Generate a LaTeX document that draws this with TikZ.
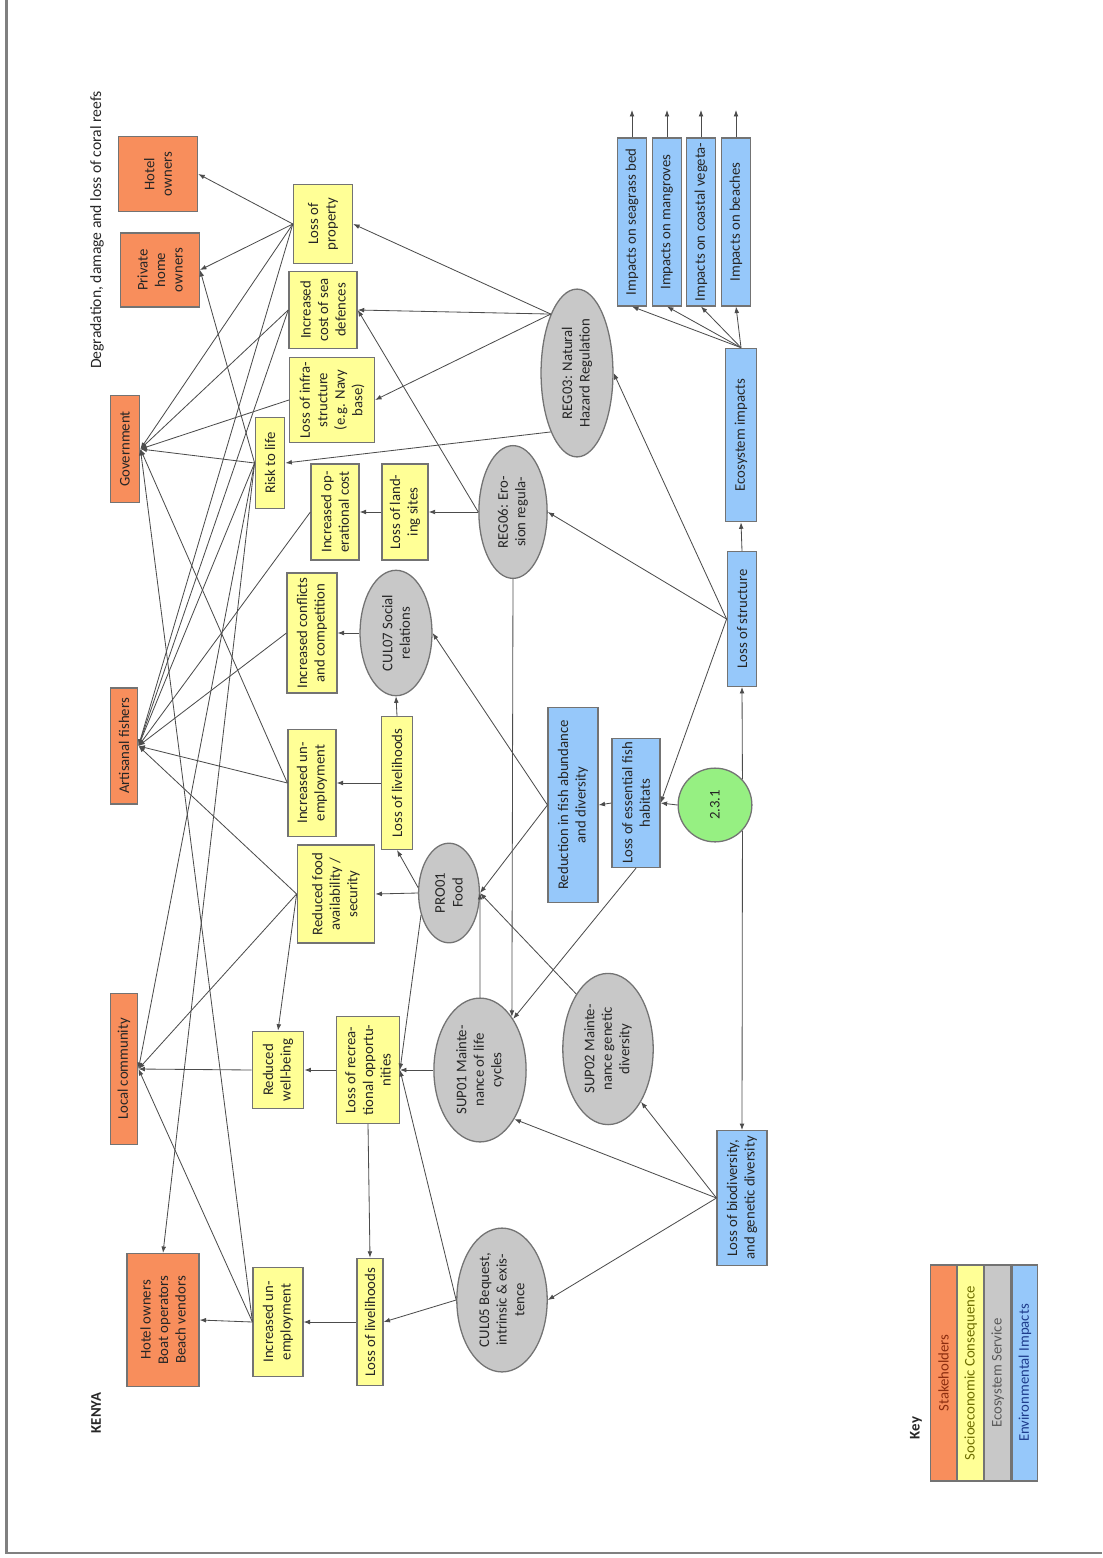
\documentclass[tikz,border=0pt]{standalone}
\usepackage{fontspec}
\setmainfont{Carlito}
\usepackage{tikz}
\usetikzlibrary{positioning}
\usetikzlibrary{shapes, arrows.meta}

\definecolor{holderorange}{RGB}{248,142,92}
\definecolor{socyellow}{RGB}{255,255,150}
\definecolor{servgray}{RGB}{200,200,200}
\definecolor{envblue}{RGB}{150,200,250}
\definecolor{pressgreen}{RGB}{150,240,130}
\definecolor{framegray}{RGB}{128,128,128}

\begin{document}
\begin{tikzpicture}[x=0.019056cm, y=0.019056cm, rotate=90, transform shape,
    every node/.style={font=\fontsize{8}{9.5}\selectfont, align=center, text=black!85},
    holderbox/.style={rectangle, draw=black!55, fill=holderorange, line width=0.7pt, inner sep=1pt},
    socbox/.style={rectangle, draw=black!55, fill=socyellow, line width=0.7pt, inner sep=1pt},
    servnode/.style={ellipse, draw=black!55, fill=servgray, line width=0.7pt, inner sep=0pt},
    envbox/.style={rectangle, draw=black!55, fill=envblue, line width=0.7pt, inner sep=1pt},
    keybox/.style={rectangle, draw=black!55, line width=0.7pt, minimum width=117pt,
      minimum height=14pt, inner sep=1pt},
    arr/.style={-{Latex[length=3.5pt,width=2.6pt]}, draw=black!70, line width=0.45pt}, ]
    \useasboundingbox (-1558,-1102) rectangle (0,0);
    \draw[framegray, line width=1.6pt] (0,-6.5) -- (-1553,-6.5) -- (-1553,-1102);
    % Titles
    \node[font=\fontsize{8.5}{10}\selectfont] (title) at (-230,-97) {Degradation, damage and loss of coral reefs};
    \node[font=\fontsize{8}{10}\selectfont\bfseries] (kenya) at (-1413,-96) {KENYA};
    \node[font=\fontsize{8}{10}\selectfont\bfseries] (keytitle) at (-1428,-916) {Key};
    % Stakeholders
    \node[holderbox, minimum width=40.5pt, minimum height=43pt] (hotel) at (-174,-158) {Hotel\\owners};
    \node[holderbox, minimum width=40pt, minimum height=42.7pt] (home) at (-270,-160) {Private\\home\\owners};
    \node[holderbox, minimum width=58pt, minimum height=16pt] (gov) at (-449,-125) {Government};
    \node[holderbox, minimum width=63pt, minimum height=15pt] (fishers) at (-746,-124) {Artisanal fishers};
    \node[holderbox, minimum width=82pt, minimum height=15pt] (community) at (-1069,-124) {Local community};
    \node[holderbox, minimum width=72pt, minimum height=39pt] (hbb) at (-1320,-163) {Hotel owners\\Boat operators\\Beach vendors};
    % Socioeconomic consequences
    \node[socbox, minimum width=43pt, minimum height=32pt] (property) at (-224,-323) {Loss of\\property};
    \node[socbox, minimum width=42pt, minimum height=37pt] (seadef) at (-310,-323) {Increased\\cost of sea\\defences};
    \node[socbox, minimum width=46pt, minimum height=46pt] (infra) at (-400,-332) {Loss of infra-\\structure\\(e.g. Navy\\base)};
    \node[socbox, minimum width=49pt, minimum height=16pt] (risk) at (-463,-270) {Risk to life};
    \node[socbox, minimum width=52pt, minimum height=26pt] (opcost) at (-512,-335) {Increased op-\\erational cost};
    \node[socbox, minimum width=52pt, minimum height=25pt] (landing) at (-512,-405) {Loss of land-\\ing sites};
    \node[socbox, minimum width=65pt, minimum height=27pt] (conflicts) at (-633,-312) {Increased conflicts\\and competition};
    \node[socbox, minimum width=58pt, minimum height=26pt] (unempfish) at (-783,-312) {Increased un-\\employment};
    \node[socbox, minimum width=72pt, minimum height=17pt] (livelifish) at (-783,-397) {Loss of livelihoods};
    \node[socbox, minimum width=53pt, minimum height=42pt] (food) at (-894,-336) {Reduced food\\availability /\\security};
    \node[socbox, minimum width=42pt, minimum height=28pt] (wellbeing) at (-1070,-278) {Reduced\\well-being};
    \node[socbox, minimum width=58pt, minimum height=34pt] (recreation) at (-1070,-368) {Loss of recrea-\\tional opportu-\\nities};
    \node[socbox, minimum width=59pt, minimum height=27pt] (unempbot) at (-1322,-278) {Increased un-\\employment};
    \node[socbox, minimum width=69pt, minimum height=14pt] (livelibot) at (-1322,-370) {Loss of livelihoods};
    % Ecosystem services
    \node[servnode, minimum width=91pt, minimum height=39pt] (reg03) at (-373,-577) {REG03: Natural\\Hazard Regulation};
    \node[servnode, minimum width=72pt, minimum height=37pt] (reg06) at (-512,-513) {REG06: Ero-\\sion regula-};
    \node[servnode, minimum width=68pt, minimum height=39pt] (cul07) at (-633,-396) {CUL07 Social\\relations};
    \node[servnode, minimum width=54pt, minimum height=33pt] (pro01) at (-893,-449) {PRO01\\Food};
    \node[servnode, minimum width=78pt, minimum height=50pt] (sup01) at (-1070,-480) {SUP01 Mainte-\\nance of life\\cycles};
    \node[servnode, minimum width=82pt, minimum height=49pt] (sup02) at (-1049,-608) {SUP02 Mainte-\\nance genetic\\diversity};
    \node[servnode, minimum width=78pt, minimum height=49pt] (cul05) at (-1300,-502) {CUL05 Bequest,\\intrinsic \& exis-\\tence};
    % Environmental impacts
    \node[circle, draw=black!55, fill=pressgreen, line width=0.7pt, minimum size=40pt, inner sep=0pt] (c231) at (-805,-715) {2.3.1};
    \node[envbox, minimum width=70pt, minimum height=26pt] (habitats) at (-803,-636) {Loss of essential fish\\habitats};
    \node[envbox, minimum width=106pt, minimum height=27pt] (fishabund) at (-805,-573) {Reduction in fish abundance\\and diversity};
    \node[envbox, minimum width=73pt, minimum height=16pt] (structure) at (-619,-742) {Loss of structure};
    \node[envbox, minimum width=94pt, minimum height=17pt] (ecosys) at (-435,-741) {Ecosystem impacts};
    \node[envbox, minimum width=73pt, minimum height=27pt] (biodiv) at (-1198,-742) {Loss of biodiversity,\\and genetic diversity};
    \node[envbox, minimum width=91pt, minimum height=16pt] (seagrass) at (-222,-632) {Impacts on seagrass bed};
    \node[envbox, minimum width=91pt, minimum height=16pt] (mangroves) at (-222,-667) {Impacts on mangroves};
    \node[envbox, minimum width=91pt, minimum height=16pt] (vegetation) at (-222,-701) {Impacts on coastal vegeta-};
    \node[envbox, minimum width=91pt, minimum height=16pt] (beaches) at (-222,-736) {Impacts on beaches};
    \coordinate (seagrassend) at (-110,-632);
    \coordinate (mangrovesend) at (-110,-667);
    \coordinate (vegetationend) at (-110,-701);
    \coordinate (beachesend) at (-110,-736);
    % Key
    \node[keybox, fill=holderorange, text={rgb,255:red,140;green,45;blue,15}] (keyholder) at (-1373,-943.5) {Stakeholders};
    \node[keybox, fill=socyellow, text={rgb,255:red,110;green,110;blue,0}] (keysoc) [below=0pt of keyholder] {Socioeconomic Consequence};
    \node[keybox, fill=servgray, text=black!65] (keyserv) [below=0pt of keysoc] {Ecosystem Service};
    \node[keybox, fill=envblue, text={rgb,255:red,30;green,60;blue,140}] (keyenv) [below=0pt of keyserv] {Environmental Impacts};
    % Lines to stakeholders
    \draw[arr] (property.north) -- (hotel.south); \draw[arr] (property.north) -- (home.south);
    \draw[arr] (property.north) -- (gov.south); \draw[arr] (property.north) -- (fishers.south);
    \draw[arr] (seadef.north) -- (gov.south); \draw[arr] (seadef.north) -- (fishers.south);
    \draw[arr] (infra.north) -- (gov.south);
    \draw[arr] (risk.north) -- (home.south); \draw[arr] (risk.north) -- (gov.south);
    \draw[arr] (risk.north) -- (fishers.south); \draw[arr] (risk.north) -- (community.south);
    \draw[arr] (risk.north) -- (hbb.east);
    \draw[arr] (opcost.north) -- (fishers.south); \draw[arr] (conflicts.north) -- (fishers.south);
    \draw[arr] (unempfish.north) -- (gov.south); \draw[arr] (unempfish.north) -- (fishers.south);
    \draw[arr] (food.north) -- (fishers.south); \draw[arr] (food.north) -- (community.south);
    \draw[arr] (food.north) -- (wellbeing.east); \draw[arr] (wellbeing.north) -- (community.south);
    \draw[arr] (unempbot.north) -- (gov.south); \draw[arr] (unempbot.north) -- (community.south);
    \draw[arr] (unempbot.north) -- (hbb.south);
    % Lines to consequences
    \draw[arr] (reg03.24) -- (property.south); \draw[arr] (reg03.24) -- (seadef.south);
    \draw[arr] (reg03.24) -- (infra.south); \draw[arr] (reg03.156) -- (risk.south);
    \draw[arr] (reg06.north) -- (seadef.south); \draw[arr] (reg06.north) -- (landing.south);
    \draw[arr] (landing.north) -- (opcost.south); \draw[arr] (reg06.west) -- (sup01.-31);
    \draw[arr] (cul07.north) -- (conflicts.south); \draw[arr] (livelifish.east) -- (cul07.west);
    \draw[arr] (livelifish.north) -- (unempfish.south); \draw[arr] (pro01.80) -- (livelifish.west);
    \draw[arr] (pro01.north) -- (food.south); \draw[arr] (pro01.128) -- (recreation.south);
    \draw[arr] (sup01.north) -- (recreation.south); \draw[arr] (cul05.north) -- (recreation.south);
    \draw[arr] (recreation.north) -- (wellbeing.south); \draw[arr] (recreation.west) -- (livelibot.east);
    \draw[arr] (cul05.north) -- (livelibot.south); \draw[arr] (livelibot.north) -- (unempbot.south);
    % Lines from impacts
    \draw[arr] (c231.north) -- (habitats.south); \draw[arr] (c231.-47) -- (structure.west);
    \draw[arr] (c231.227) -- (biodiv.east); \draw[arr] (structure.east) -- (ecosys.west);
    \draw[arr] (structure.north) -- (reg03.south); \draw[arr] (structure.north) -- (reg06.south);
    \draw[arr] (structure.north) -- (habitats.south); \draw[arr] (habitats.north) -- (fishabund.south);
    \draw[arr] (habitats.west) -- (sup01.-33); \draw[arr] (fishabund.north) -- (cul07.south);
    \draw[arr] (fishabund.north) -- (pro01.south); \draw[arr] (sup01.east) -- (pro01.south);
    \draw[arr] (sup02.30) -- (pro01.south); \draw[arr] (biodiv.north) -- (sup01.215);
    \draw[arr] (biodiv.north) -- (sup02.212); \draw[arr] (biodiv.north) -- (cul05.south);
    \draw[arr] (ecosys.east) -- (seagrass.west); \draw[arr] (ecosys.east) -- (mangroves.west);
    \draw[arr] (ecosys.east) -- (vegetation.west); \draw[arr] (ecosys.east) -- (beaches.west);
    \draw[arr] (seagrass.east) -- (seagrassend); \draw[arr] (mangroves.east) -- (mangrovesend);
    \draw[arr] (vegetation.east) -- (vegetationend); \draw[arr] (beaches.east) -- (beachesend);
  \end{tikzpicture}
\end{document}
